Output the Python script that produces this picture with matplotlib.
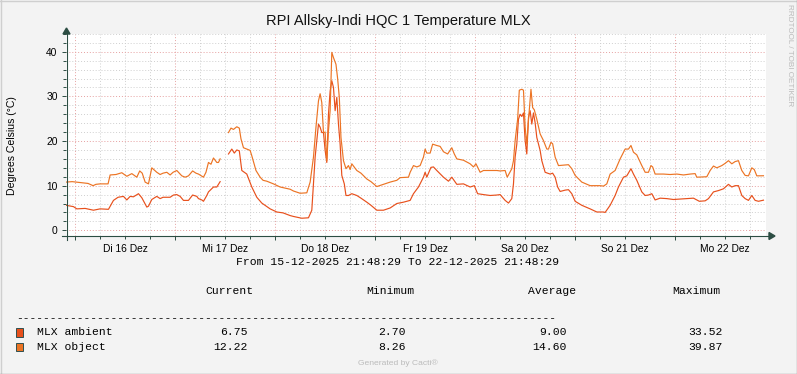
import numpy as np
import matplotlib
matplotlib.use("Agg")
import matplotlib.pyplot as plt
import matplotlib.dates as mdates
from matplotlib.lines import Line2D
from matplotlib.patches import Polygon, Rectangle
from matplotlib.ticker import MultipleLocator, FuncFormatter, NullFormatter

# hours since 16-12-2025 00:00, degrees C (nan = gap in the rrd)
obj_h = [-2.2, -0.7, 1.2, 3.1, 4.3, 5.0, 6.0, 7.9, 8.4, 9.8, 11.2, 12.4, 13.6, 14.8, 15.5, 16.1,
         16.8, 17.6, 18.4, 19.6, 20.4, 21.1, 22.0, 22.8, 23.5, 24.4, 25.6, 26.4, 27.2, 28.2,
         29.0, 29.6, 30.8, 31.4, 32.0, 32.6, 33.2, 34.0, 34.4, 34.8, 35.8,
         36.8, 37.4, 38.0, 38.8, 39.4, 39.8, 40.4, 41.2, 42.0, 42.4, 43.4, 44.4, 45.1, 46.0,
         47.6, 49.2, 51.6, 52.4, 54.0, 55.6, 56.4, 57.2, 57.8, 58.4, 58.8, 59.2, 59.6, 60.0,
         60.4, 60.8, 61.2, 61.6, 62.0, 62.6, 63.0, 63.4, 63.8, 64.4, 65.0, 65.6, 66.0, 66.4,
         67.6, 68.6, 70.0, 71.0, 72.4, 74.0, 75.6, 77.2, 78.0, 80.0, 80.4, 81.2, 82.0, 82.8,
         83.6, 84.0, 84.4, 85.2, 85.8, 86.8, 87.6, 88.4, 89.4, 90.4, 91.0, 91.6, 93.2, 94.8,
         95.6, 96.2, 97.2, 98.0, 99.6, 101.2, 102.0, 103.2, 103.7, 104.8, 105.2, 105.6, 106.2,
         106.6, 107.2, 107.6, 108.0, 108.4, 108.8, 109.4, 109.8, 110.2, 110.8, 111.6, 112.4,
         113.2, 113.6, 114.2, 114.6, 115.2, 116.0, 117.2, 118.4, 119.2, 120.0, 121.6, 123.6,
         126.0, 126.8, 127.6, 128.4, 129.6, 130.8, 132.0, 132.8, 133.4, 134.0, 134.8, 136.0,
         136.8, 137.6, 138.2, 138.6, 139.2, 141.2, 142.8, 144.4, 146.0, 147.6, 148.8, 149.2,
         151.6, 152.4, 153.2, 154.0, 155.2, 156.0, 156.8, 157.6, 158.4, 159.2, 160.0, 160.8,
         161.6, 162.4, 163.0, 163.6, 165.2]
obj_v = [10.8, 10.9, 10.7, 10.5, 10.0, 10.3, 10.4, 10.4, 12.4, 12.5, 12.9, 12.1, 12.7, 11.9, 13.3, 12.8,
         10.8, 10.4, 14.0, 13.0, 12.5, 12.8, 13.0, 12.4, 13.0, 13.4, 12.2, 11.9, 12.2, 13.3,
         12.8, 12.6, 11.9, 13.0, 15.2, 14.8, 16.2, 15.2, 15.2, 16.0, np.nan,
         21.9, 22.9, 22.6, 23.2, 22.9, 20.5, 18.5, 18.2, 17.9, 16.7, 13.4, 11.9, 11.2, 11.0,
         10.4, 9.7, 9.2, 8.8, 8.3, 8.4, 10.8, 16.4, 23.1, 29.0, 30.6, 28.6, 21.9, 22.0,
         15.6, 22.3, 26.8, 39.87, 38.7, 37.2, 34.0, 29.8, 20.8, 15.6, 13.8, 14.5, 13.6, 14.9,
         13.4, 12.8, 11.5, 10.9, 9.8, 10.3, 10.8, 11.2, 11.8, 11.9, 13.0, 14.5, 14.2, 14.5,
         16.4, 18.2, 17.3, 17.3, 19.3, 19.0, 18.8, 17.6, 17.1, 18.5, 17.1, 16.0, 15.7, 14.9,
         14.2, 14.9, 13.0, 13.4, 13.4, 13.4, 13.3, 13.4, 11.9, 13.8, 15.6, 20.1, 24.9,
         31.4, 31.6, 31.4, 23.1, 19.3, 24.6, 31.6, 27.5, 27.0, 24.9, 21.6, 20.1,
         18.2, 18.2, 19.7, 19.4, 16.4, 14.5, 14.6, 14.7, 13.8, 12.3, 10.8, 10.0,
         10.0, 9.9, 10.4, 12.6, 13.4, 16.0, 18.2, 18.2, 19.0, 17.5, 16.9, 14.5,
         13.0, 13.0, 14.5, 14.2, 12.6, 12.6, 12.5, 12.6, 12.4, 12.6, 12.7, 11.9,
         12.0, 13.4, 14.4, 14.0, 14.5, 15.0, 15.6, 14.9, 15.4, 15.6, 13.4, 12.3,
         12.2, 14.0, 13.6, 12.2, 12.22]

amb_h = [-2.2, -0.4, 0.4, 2.4, 4.4, 6.0, 8.0, 9.2, 10.3, 11.6, 12.4, 13.2, 14.0, 15.2, 16.0, 17.2,
         17.6, 18.4, 19.6, 20.4, 21.1, 22.0, 22.8, 23.6, 24.4, 25.2, 26.0, 27.2, 28.2, 29.2,
         29.6, 30.4, 30.8, 31.6, 32.0, 33.2, 34.0, 34.4, 34.8, 35.8,
         36.8, 37.6, 38.2, 38.8, 39.4, 40.0, 41.2, 42.4, 43.6, 44.8, 46.8, 48.4, 49.9, 51.6,
         52.4, 54.0, 54.4, 56.0, 56.8, 57.2, 57.6, 58.0, 58.4, 58.8, 59.2, 59.6, 60.0, 60.4,
         60.8, 61.2, 61.6, 62.0, 62.4, 62.8, 63.2, 63.6, 64.0, 64.6, 65.0, 65.6, 66.4, 67.6,
         68.6, 70.0, 71.0, 72.4, 74.0, 75.6, 77.2, 78.8, 80.4, 81.2, 82.4, 83.6, 84.0, 84.4,
         85.4, 86.0, 86.8, 88.4, 89.6, 90.4, 91.6, 93.2, 94.8, 95.8, 96.6, 98.0, 99.6, 101.2,
         102.0, 103.2, 104.0, 104.8, 105.2, 105.6, 106.0, 106.4, 106.8, 107.2, 107.6, 108.0,
         108.4, 108.8, 109.2, 109.6, 110.0, 110.4, 110.8, 111.6, 112.0, 112.8, 114.0, 114.6,
         115.2, 115.8, 116.4, 117.6, 118.4, 119.2, 120.0, 121.6, 123.6, 125.2, 126.8, 127.2,
         128.4, 129.6, 130.4, 131.6, 132.4, 133.4, 134.0, 134.8, 136.0, 136.8, 137.6, 138.4,
         139.2, 140.4, 142.0, 143.6, 145.2, 146.8, 148.4, 149.8, 151.2, 152.0, 153.2, 154.4,
         155.6, 156.8, 157.6, 158.4, 159.2, 160.0, 160.8, 161.6, 162.4, 163.2, 164.0, 165.2]
amb_v = [5.6, 5.3, 4.8, 4.9, 4.5, 4.8, 4.7, 6.7, 7.4, 7.6, 6.8, 7.6, 7.5, 8.2, 7.3, 5.2,
         5.4, 6.9, 7.6, 7.1, 7.4, 7.4, 7.4, 7.9, 8.0, 7.6, 6.7, 6.7, 7.9, 7.6,
         7.1, 6.8, 6.5, 7.8, 8.6, 9.7, 9.7, 10.3, 10.9, np.nan,
         17.1, 18.2, 17.3, 18.0, 17.8, 13.4, 12.6, 9.7, 7.4, 6.1, 4.8, 4.1, 3.9, 3.3,
         3.1, 2.8, 2.7, 2.8, 4.5, 10.4, 16.4, 20.1, 23.8, 23.1, 21.9, 21.9, 17.9, 15.2,
         26.0, 31.2, 33.52, 32.0, 26.8, 29.8, 23.8, 19.3, 12.3, 10.4, 7.8, 7.8, 8.2, 7.8,
         7.2, 6.3, 5.6, 4.5, 4.5, 5.0, 6.0, 6.3, 6.7, 8.2, 9.7, 11.9, 13.0, 11.9,
         14.1, 14.2, 13.4, 11.9, 11.0, 11.9, 10.3, 10.4, 9.7, 10.0, 8.2, 8.0, 7.8, 7.9,
         8.0, 6.7, 6.1, 7.1, 10.4, 16.4, 19.3, 24.9, 26.0, 25.5, 26.3, 20.1,
         17.1, 25.3, 26.8, 23.8, 26.3, 24.1, 20.8, 17.9, 15.6, 13.0, 12.6, 12.8,
         11.9, 9.7, 8.7, 9.0, 9.1, 8.2, 6.5, 5.6, 4.8, 4.1, 4.1, 4.0,
         5.6, 7.8, 9.7, 11.9, 12.2, 13.8, 12.6, 11.2, 8.6, 7.8, 7.9, 8.2,
         6.8, 7.2, 7.1, 6.9, 7.0, 7.1, 7.2, 6.5, 6.6, 7.1, 8.6, 8.9,
         9.3, 10.3, 9.7, 10.0, 10.0, 7.8, 7.1, 6.7, 7.8, 6.7, 6.5, 6.75]

series = ["MLX ambient", "MLX object"]
cur = ["6.75", "12.22"]
mins = ["2.70", "8.26"]
avgs = ["9.00", "14.60"]
maxs = ["33.52", "39.87"]

WD = ["Mo", "Di", "Mi", "Do", "Fr", "Sa", "So"]
BG = "#F3F3F3"
AXIS = "#2C4D43"
C_AMB = "#E8501C"
C_OBJ = "#EC7424"
W, H = 797, 374


def fx(x):
    return x / W


def fy(y):
    return 1 - y / H


def to_time(hours):
    t0 = np.datetime64("2025-12-16T00:00:00")
    return t0 + (np.array(hours) * 3600).astype("timedelta64[s]")


fig = plt.figure(figsize=(W / 100, H / 100), dpi=100, facecolor=BG)
ax = fig.add_axes([fx(66), fy(236), fx(766) - fx(66), fy(33.5) - fy(236)])
ax.set_facecolor("white")

ax.plot(to_time(amb_h), amb_v, color=C_AMB, lw=0.85)
ax.plot(to_time(obj_h), obj_v, color=C_OBJ, lw=0.85)

ax.set_xlim(np.datetime64("2025-12-15T21:48:29"), np.datetime64("2025-12-22T21:48:29"))
ax.set_ylim(-1.28, 44.1)

ax.xaxis.set_major_locator(mdates.HourLocator(byhour=[0]))
ax.xaxis.set_minor_locator(mdates.HourLocator(byhour=[6, 12, 18]))
ax.xaxis.set_major_formatter(NullFormatter())


def day_label(v, pos):
    d = mdates.num2date(v)
    if d.hour == 12:
        return f"{WD[d.weekday()]} {d.day} Dez"
    return ""


ax.xaxis.set_minor_formatter(FuncFormatter(day_label))
ax.yaxis.set_major_locator(MultipleLocator(10))
ax.yaxis.set_minor_locator(MultipleLocator(2))

ax.grid(which="minor", color="#CFCFCF", linestyle=(0, (1, 2)), lw=0.7)
ax.grid(which="major", color="#E6A0A0", linestyle=(0, (1, 2)), lw=0.7)
ax.set_axisbelow(True)

for s in ax.spines.values():
    s.set_visible(False)
ax.tick_params(which="both", direction="out", color=AXIS, width=0.7, labelsize=7.4)
ax.tick_params(which="major", length=3, pad=3)
ax.tick_params(which="minor", length=2, pad=4)
ax.tick_params(axis="y", which="minor", length=2)

# axis lines with arrows
fig.add_artist(Line2D([fx(62), fx(770)], [fy(236), fy(236)], color=AXIS, lw=0.8))
fig.add_artist(Line2D([fx(66.5), fx(66.5)], [fy(240), fy(32)], color=AXIS, lw=0.8))
fig.add_artist(Polygon([[fx(769), fy(232.5)], [fx(775), fy(236)], [fx(769), fy(239.5)]],
                       closed=True, color=AXIS, transform=fig.transFigure))
fig.add_artist(Polygon([[fx(63), fy(34)], [fx(66.5), fy(28)], [fx(70), fy(34)]],
                       closed=True, color=AXIS, transform=fig.transFigure))

sans = "Liberation Sans"
mono = "Liberation Mono"
for lab in ax.get_xticklabels(minor=True) + ax.get_yticklabels():
    lab.set_fontfamily(sans)

fig.text(fx(398), fy(21), "RPI Allsky-Indi HQC 1 Temperature MLX", ha="center", va="center",
         fontsize=10.5, family=sans, color="#111111")
fig.text(fx(12), fy(146), "Degrees Celsius (°C)", rotation=90, ha="center", va="center",
         fontsize=7.6, family=sans)
fig.text(fx(789), fy(4), "RRDTOOL / TOBI OETIKER", rotation=270, ha="center", va="top",
         fontsize=5.9, family=sans, color="#BBBBBB")

fs = 8.2
fig.text(fx(398), fy(262), "From 15-12-2025 21:48:29 To 22-12-2025 21:48:29", ha="center",
         va="center", fontsize=fs, family=mono)
for x, h in zip([205, 366, 528, 672], ["Current", "Minimum", "Average", "Maximum"]):
    fig.text(fx(x), fy(291), h, ha="left", va="center", fontsize=fs, family=mono)
fig.text(fx(16), fy(318), "-" * 80, ha="left", va="center", fontsize=8.1, family=mono)

for i, name in enumerate(series):
    y = 332.3 + 14.3 * i
    col = [C_AMB, C_OBJ][i]
    fig.add_artist(Rectangle((fx(15.5), fy(y + 4.5)), 7.5 / W, 8.5 / H, transform=fig.transFigure,
                             facecolor=col, edgecolor="#2F4F4F", lw=0.7))
    fig.text(fx(37), fy(y), name, ha="left", va="center", fontsize=fs, family=mono)
    for x, v in zip([248, 406, 567, 723], [cur[i], mins[i], avgs[i], maxs[i]]):
        fig.text(fx(x), fy(y), v, ha="right", va="center", fontsize=fs, family=mono)

fig.text(fx(398), fy(363), "Generated by Cacti®", ha="center", va="center", fontsize=6.1,
         family=sans, color="#BBBBBB")

# 3d-ish frame
fig.add_artist(Line2D([0, 1], [fy(0.5), fy(0.5)], color="#CFCFCF", lw=1))
fig.add_artist(Line2D([fx(0.5), fx(0.5)], [0, 1], color="#CFCFCF", lw=1))
fig.add_artist(Line2D([0, 1], [fy(373.5), fy(373.5)], color="#9E9E9E", lw=1))
fig.add_artist(Line2D([fx(796.5), fx(796.5)], [0, 1], color="#9E9E9E", lw=1))

fig.savefig("out.png", dpi=100, facecolor=BG)
